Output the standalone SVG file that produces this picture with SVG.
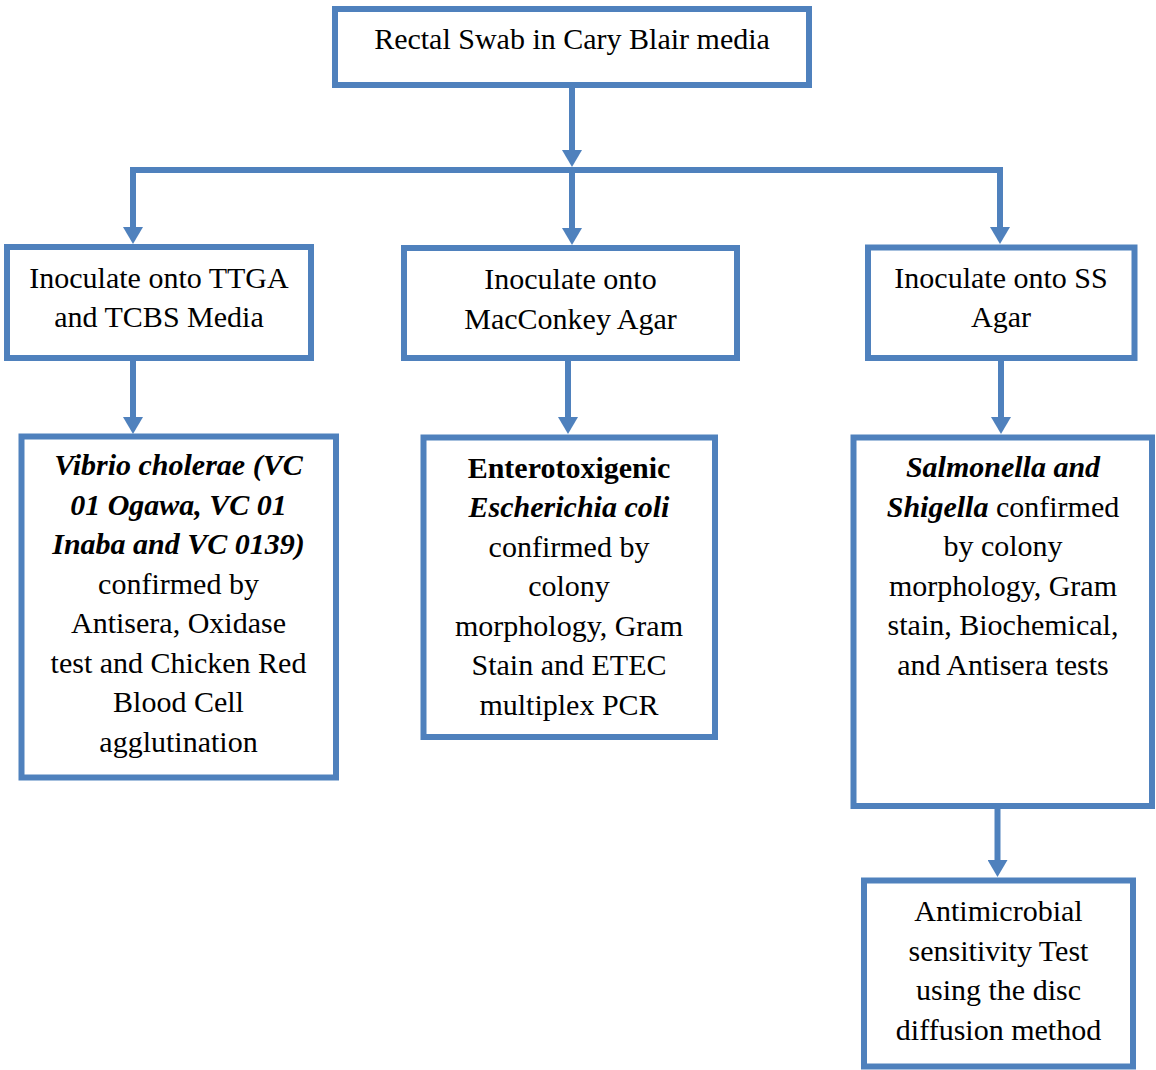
<svg xmlns="http://www.w3.org/2000/svg" width="1156" height="1070" viewBox="0 0 1156 1070">
  <style>
    .box { fill: #ffffff; stroke: #4f81bd; stroke-width: 6; }
    .wire { fill: none; stroke: #4f81bd; stroke-width: 6; }
    .lbl { font-family: "Liberation Serif", "Times New Roman", serif; font-size: 30px; fill: #000000; text-anchor: middle; }
    .bi { font-weight: bold; font-style: italic; }
    .b { font-weight: bold; }
  </style>
  <defs>
    <marker id="arrow" markerUnits="userSpaceOnUse" markerWidth="18" markerHeight="20" refX="1" refY="10" orient="auto">
      <path d="M0,0 L17,10 L0,20 z" fill="#4f81bd"/>
    </marker>
  </defs>

  <rect width="1156" height="1070" fill="#ffffff"/>

  <!-- connectors -->
  <g id="connectors">
    <line class="wire" x1="572" y1="86" x2="572" y2="151" marker-end="url(#arrow)"/>
    <line class="wire" x1="133" y1="170" x2="1000" y2="170" stroke-linecap="square"/>
    <line class="wire" x1="133" y1="170" x2="133" y2="228" marker-end="url(#arrow)"/>
    <line class="wire" x1="572" y1="167" x2="572" y2="229" marker-end="url(#arrow)"/>
    <line class="wire" x1="1000" y1="170" x2="1000" y2="228" marker-end="url(#arrow)"/>
    <line class="wire" x1="133" y1="360" x2="133" y2="418" marker-end="url(#arrow)"/>
    <line class="wire" x1="568" y1="360" x2="568" y2="418" marker-end="url(#arrow)"/>
    <line class="wire" x1="1001" y1="360" x2="1001" y2="418" marker-end="url(#arrow)"/>
    <line class="wire" x1="997.5" y1="808" x2="997.5" y2="861" marker-end="url(#arrow)"/>
  </g>

  <!-- specimen -->
  <g id="swab">
    <rect class="box" x="335" y="9" width="474" height="76"/>
    <text class="lbl" x="572" y="49">Rectal Swab in Cary Blair media</text>
  </g>

  <!-- culture media -->
  <g id="ttga-tcbs">
    <rect class="box" x="7" y="247" width="304" height="111"/>
    <text class="lbl" x="159" y="288">Inoculate onto TTGA</text>
    <text class="lbl" x="159" y="327">and TCBS Media</text>
  </g>

  <g id="macconkey">
    <rect class="box" x="404" y="248" width="333" height="110"/>
    <text class="lbl" x="570.5" y="288.5">Inoculate onto</text>
    <text class="lbl" x="570.5" y="329">MacConkey Agar</text>
  </g>

  <g id="ss-agar">
    <rect class="box" x="868" y="247.5" width="266.5" height="110.5"/>
    <text class="lbl" x="1001" y="288">Inoculate onto SS</text>
    <text class="lbl" x="1001" y="327">Agar</text>
  </g>

  <!-- confirmation -->
  <g id="vibrio">
    <rect class="box" x="21.5" y="436.5" width="314.5" height="341"/>
    <text class="lbl" x="178.5" y="475"><tspan class="bi">Vibrio cholerae (VC</tspan></text>
    <text class="lbl" x="178.5" y="514.5"><tspan class="bi">01 Ogawa, VC 01</tspan></text>
    <text class="lbl" x="178.5" y="554"><tspan class="bi">Inaba and VC 0139)</tspan></text>
    <text class="lbl" x="178.5" y="593.5">confirmed by</text>
    <text class="lbl" x="178.5" y="633">Antisera, Oxidase</text>
    <text class="lbl" x="178.5" y="672.5">test and Chicken Red</text>
    <text class="lbl" x="178.5" y="712">Blood Cell</text>
    <text class="lbl" x="178.5" y="751.5">agglutination</text>
  </g>

  <g id="etec">
    <rect class="box" x="423.5" y="437.5" width="291.5" height="299.5"/>
    <text class="lbl" x="569" y="477.5"><tspan class="b">Enterotoxigenic</tspan></text>
    <text class="lbl" x="569" y="517"><tspan class="bi">Escherichia coli</tspan></text>
    <text class="lbl" x="569" y="556.5">confirmed by</text>
    <text class="lbl" x="569" y="596">colony</text>
    <text class="lbl" x="569" y="635.5">morphology, Gram</text>
    <text class="lbl" x="569" y="675">Stain and ETEC</text>
    <text class="lbl" x="569" y="714.5">multiplex PCR</text>
  </g>

  <g id="salmonella-shigella">
    <rect class="box" x="853.5" y="437.5" width="298.5" height="368.5"/>
    <text class="lbl" x="1003" y="477"><tspan class="bi">Salmonella and</tspan></text>
    <text class="lbl" x="1003" y="516.5"><tspan class="bi">Shigella</tspan> confirmed</text>
    <text class="lbl" x="1003" y="556">by colony</text>
    <text class="lbl" x="1003" y="595.5">morphology, Gram</text>
    <text class="lbl" x="1003" y="635">stain, Biochemical,</text>
    <text class="lbl" x="1003" y="674.5">and Antisera tests</text>
  </g>

  <!-- susceptibility testing -->
  <g id="antimicrobial">
    <rect class="box" x="864" y="880.5" width="269" height="186"/>
    <text class="lbl" x="998.5" y="921">Antimicrobial</text>
    <text class="lbl" x="998.5" y="960.5">sensitivity Test</text>
    <text class="lbl" x="998.5" y="1000">using the disc</text>
    <text class="lbl" x="998.5" y="1039.5">diffusion method</text>
  </g>
</svg>
